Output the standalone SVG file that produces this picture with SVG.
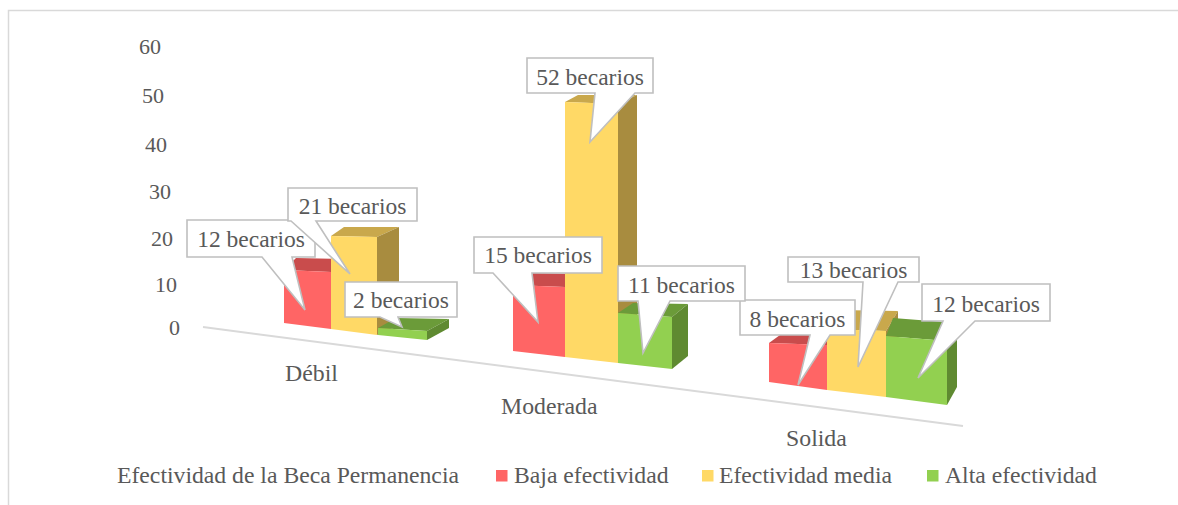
<svg xmlns="http://www.w3.org/2000/svg" width="1178" height="505" viewBox="0 0 1178 505">
<style>
text{font-family:'Liberation Serif','Times New Roman',serif;fill:#595959}
.ax{font-size:22px;text-anchor:end}
.cat{font-size:23.8px}
.lg{font-size:23.7px}
.lb{font-size:23.5px;text-anchor:middle}
.co{fill:#fff;stroke:#BFBFBF;stroke-width:1.6;stroke-linejoin:miter}
.rf{fill:#FF6565}.rt{fill:#C94C4C}
.yf{fill:#FFD966}.yt{fill:#C9A84C}.ys{fill:#A88C3F}
.gf{fill:#92D050}.gt{fill:#6B9B39}.gs{fill:#5F8A31}
</style>
<rect width="1178" height="505" fill="#fff"/>
<path d="M8.5 505 V10.5 H1178" fill="none" stroke="#D9D9D9" stroke-width="1.5"/>
<g id="axis">
<text class="ax" x="161" y="54">60</text>
<text class="ax" x="164" y="103">50</text>
<text class="ax" x="167" y="152">40</text>
<text class="ax" x="171" y="199">30</text>
<text class="ax" x="173" y="246">20</text>
<text class="ax" x="177" y="292">10</text>
<text class="ax" x="180" y="335">0</text>
<line x1="203" y1="327" x2="963" y2="426" stroke="#D9D9D9" stroke-width="2"/>
<text class="cat" x="285" y="381">Débil</text>
<text class="cat" x="501" y="414">Moderada</text>
<text class="cat" x="786" y="446">Solida</text>
</g>
<g id="bars-debil">
<polygon class="rt" points="284,270 331,272 343,259 296,258"/>
<polygon class="rf" points="284,270 331,272 331,329 284,323"/>
<polygon class="yt" points="331,236 377,237 399,227 344,227"/>
<polygon class="ys" points="377,237 399,227 399,325 377,335"/>
<polygon class="yf" points="331,236 377,237 377,335 331,329"/>
<polygon class="gt" points="378,328 427,331 449,319 396,318"/>
<polygon class="gs" points="427,331 449,319 449,328 427,340"/>
<polygon class="gf" points="378,328 427,331 427,340 378,335"/>
</g>
<g id="bars-moderada">
<polygon class="rt" points="513,285 565,287 580,274 527,273"/>
<polygon class="rf" points="513,285 565,287 565,357 513,351"/>
<polygon class="yt" points="565,102 618,104 637,95 578,95"/>
<polygon class="ys" points="618,104 637,95 637,354 618,363"/>
<polygon class="yf" points="565,102 618,104 618,363 565,357"/>
<polygon class="gt" points="618,313 672,317 688,304 633,303"/>
<polygon class="gs" points="672,317 688,304 688,356 672,369"/>
<polygon class="gf" points="618,313 672,317 672,369 618,363"/>
</g>
<g id="bars-solida">
<polygon class="rt" points="769,343 827,345 838,335 780,335"/>
<polygon class="rf" points="769,343 827,345 827,390 769,382"/>
<polygon class="yt" points="827,329 886,331 898,311 838,310"/>
<polygon class="ys" points="886,331 898,311 898,377 886,397"/>
<polygon class="yf" points="827,329 886,331 886,397 827,390"/>
<polygon class="gt" points="886,336 947,341 957,323 893,318"/>
<polygon class="gs" points="947,341 957,323 957,387 947,405"/>
<polygon class="gf" points="886,336 947,341 947,405 886,397"/>
</g>
<g id="label-debil-baja">
<path class="co" d="M187 220 H315 V257 H292 L305 310 L262 257 H187 Z"/>
<text class="lb" x="251" y="247">12 becarios</text>
</g>
<g id="label-moderada-baja">
<path class="co" d="M474 237 H602 V273 H532 L538 322 L493 273 H474 Z"/>
<text class="lb" x="538" y="263">15 becarios</text>
</g>
<g id="label-solida-baja">
<path class="co" d="M740 300 H855 V335 H830 L798 385 L810 335 H740 Z"/>
<text class="lb" x="797.5" y="327">8 becarios</text>
</g>
<g id="label-debil-media">
<path class="co" d="M288 188 H417 V221 H316 L350 274 L291 221 H288 Z"/>
<text class="lb" x="352.5" y="214">21 becarios</text>
</g>
<g id="label-moderada-media">
<path class="co" d="M527 58 H653 V93 H635 L590 142 L595 93 H527 Z"/>
<text class="lb" x="590" y="85">52 becarios</text>
</g>
<g id="label-solida-media">
<path class="co" d="M788 257 H919 V282 H898 L858 367 L863 282 H788 Z"/>
<text class="lb" x="853.5" y="278">13 becarios</text>
</g>
<g id="label-debil-alta">
<path class="co" d="M345 282 H457 V317 H398 L402 327 L380 317 H345 Z"/>
<text class="lb" x="401" y="308">2 becarios</text>
</g>
<g id="label-moderada-alta">
<path class="co" d="M618 266 H745 V301 H670 L643 353 L638 301 H618 Z"/>
<text class="lb" x="681.5" y="293">11 becarios</text>
</g>
<g id="label-solida-alta">
<path class="co" d="M922 284 H1050 V321 H975 L918 378 L943 321 H922 Z"/>
<text class="lb" x="986" y="312">12 becarios</text>
</g>
<g id="legend">
<text class="lg" x="117" y="483">Efectividad de la Beca Permanencia</text>
<rect class="rf" x="496" y="470" width="11.5" height="11.5"/>
<text class="lg" x="514" y="483">Baja efectividad</text>
<rect class="yf" x="702" y="470" width="11.5" height="11.5"/>
<text class="lg" x="719" y="483">Efectividad media</text>
<rect class="gf" x="927" y="470" width="11.5" height="11.5"/>
<text class="lg" x="945" y="483">Alta efectividad</text>
</g>
</svg>
